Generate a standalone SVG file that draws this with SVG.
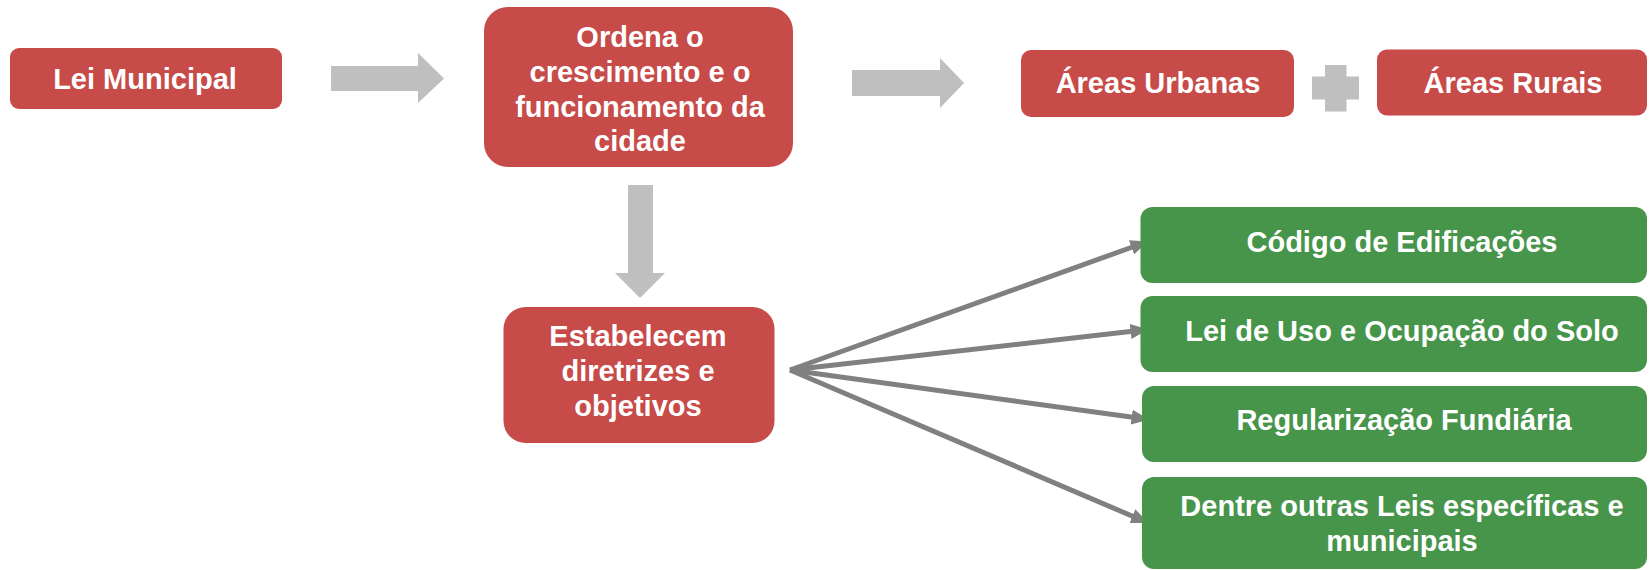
<svg xmlns="http://www.w3.org/2000/svg" width="1650" height="570" viewBox="0 0 1650 570">
<defs>
<style>
.red{fill:#C64B49}
.green{fill:#47944B}
.block{fill:#BFBFBF}
.t{font-family:"Liberation Sans",Arial,sans-serif;font-weight:bold;font-size:29px;fill:#FFFFFF;text-anchor:middle}
.conn{stroke:#808080;stroke-width:5;fill:none}
</style>
<marker id="ah" viewBox="0 0 3.5 3" refX="1.7" refY="1.5" markerWidth="3.5" markerHeight="3" orient="auto" markerUnits="strokeWidth">
<path d="M0,0 L3.5,1.5 L0,3 z" fill="#808080"/>
</marker>
</defs>
<rect width="1650" height="570" fill="#FFFFFF"/>

<g id="block-arrows">
<polygon class="block" points="331,66 418,66 418,53 444,78.5 418,103 418,91 331,91"/>
<polygon class="block" points="852,70 940,70 940,58 964,83 940,108 940,96 852,96"/>
<polygon class="block" points="628,185 653,185 653,273 665,273 640,298 615,273 628,273"/>
<path class="block" d="M1325,65 h21.5 v11.5 h12.5 v23 h-12.5 v12 h-21.5 v-12 h-13 v-23 h13 z"/>
</g>

<g id="connectors">
<line class="conn" x1="790" y1="370" x2="1139.5" y2="244.5" marker-end="url(#ah)"/>
<line class="conn" x1="790" y1="370" x2="1139.1" y2="330.5" marker-end="url(#ah)"/>
<line class="conn" x1="790" y1="370" x2="1140.1" y2="418.3" marker-end="url(#ah)"/>
<line class="conn" x1="790" y1="370" x2="1140.2" y2="519.5" marker-end="url(#ah)"/>
</g>

<g id="lei-municipal">
<rect class="red" x="10" y="48" width="272" height="61" rx="9"/>
<text class="t" x="145" y="89">Lei Municipal</text>
</g>

<g id="ordena">
<rect class="red" x="484" y="7" width="309" height="160" rx="24"/>
<text class="t" x="640" y="47">Ordena o</text>
<text class="t" x="640" y="82">crescimento e o</text>
<text class="t" x="640" y="117">funcionamento da</text>
<text class="t" x="640" y="151">cidade</text>
</g>

<g id="areas-urbanas">
<rect class="red" x="1021" y="50" width="273" height="67" rx="10"/>
<text class="t" x="1158" y="93">Áreas Urbanas</text>
</g>

<g id="areas-rurais">
<rect class="red" x="1377" y="49.5" width="270" height="66" rx="10"/>
<text class="t" x="1513" y="93">Áreas Rurais</text>
</g>

<g id="estabelecem">
<rect class="red" x="503.5" y="307" width="271" height="136" rx="22"/>
<text class="t" x="638" y="346">Estabelecem</text>
<text class="t" x="638" y="381">diretrizes e</text>
<text class="t" x="638" y="416">objetivos</text>
</g>

<g id="codigo-edificacoes">
<rect class="green" x="1140.5" y="207" width="506.5" height="76" rx="12"/>
<text class="t" x="1402" y="252">Código de Edificações</text>
</g>

<g id="lei-uso-ocupacao">
<rect class="green" x="1140.5" y="296" width="506.5" height="76" rx="12"/>
<text class="t" x="1402" y="341">Lei de Uso e Ocupação do Solo</text>
</g>

<g id="regularizacao">
<rect class="green" x="1142" y="386" width="505" height="76" rx="12"/>
<text class="t" x="1404" y="430">Regularização Fundiária</text>
</g>

<g id="outras-leis">
<rect class="green" x="1142" y="477" width="505" height="92" rx="12"/>
<text class="t" x="1402" y="516">Dentre outras Leis específicas e</text>
<text class="t" x="1402" y="551">municipais</text>
</g>
</svg>
